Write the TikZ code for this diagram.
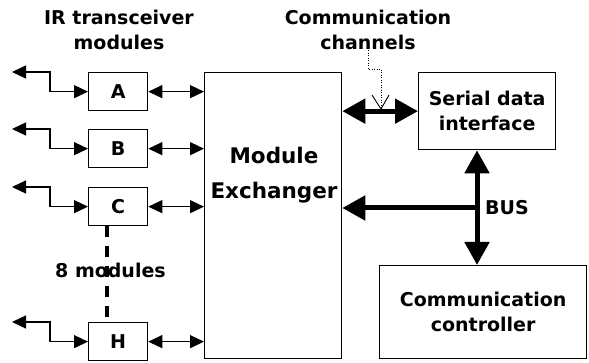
\documentclass[tikz,border=0pt]{standalone}
\usepackage{fontspec}
\setmainfont{DejaVu Sans}
\usetikzlibrary{arrows.meta,calc}
\begin{document}
\begin{tikzpicture}[x=1pt,y=-1pt,
  box/.style={draw, line width=1.3pt, fill=white, inner sep=0pt, anchor=north west},
  lbl/.style={font=\fontsize{19}{25}\selectfont\bfseries, align=center, inner sep=0pt},
  biglbl/.style={font=\fontsize{21.5}{35}\selectfont\bfseries, align=center, inner sep=0pt},
  linkarr/.style={line width=1.3pt, {Triangle[length=14pt,width=13pt]}-{Triangle[length=14pt,width=13pt]}},
  busline/.style={line width=5pt},
  dashline/.style={line width=3.5pt, dash pattern=on 11pt off 9pt},
  pointer/.style={line width=1pt, dash pattern=on 1pt off 1.5pt},
]
\useasboundingbox (0,0) rectangle (589,363);

% titles
\node[lbl] (irlbl) at (119,30) {IR transceiver\\modules};
\node[lbl] (chanlbl) at (368,30) {Communication\\channels};

% main blocks
\node[box, minimum width=137pt, minimum height=286pt] (ME) at (204,72) {};
\node[biglbl] (metext) at (274,175) {Module\\Exchanger};
\node[box, minimum width=137pt, minimum height=77pt, lbl] (SDI) at (418,72) {Serial data\\interface};
\node[box, minimum width=207pt, minimum height=93pt, lbl] (CC) at (379,265) {Communication\\controller};

% transceiver modules
\foreach \m/\y in {A/72,B/129,C/187,H/322}{
  \node[box, minimum width=59pt, minimum height=38pt, lbl] (\m) at (88,\y) {\m};
  \coordinate (\m out) at ([xshift=-76pt]\m.north west);
  \draw[linkarr] (\m out) -- ++(38,0) |- (\m.west);
  \draw[linkarr] (\m.east) -- (\m.east -| ME.west);
}

% module count
\node[lbl, anchor=west] (count) at (55,270) {8 modules};
\coordinate (dx) at (107,0);
\draw[dashline] (C.south -| dx) -- (H.north -| dx);

% communication channel link
\draw[busline, {Triangle[length=23pt,width=24pt]}-{Triangle[length=23pt,width=24pt]}]
  (ME.east |- SDI.west) -- (SDI.west);
\coordinate (ptip) at (381,109);
\draw[pointer] (chanlbl.south) -- ++(0,19) -| (ptip);
\draw[line width=0.9pt] ([shift={(-9,-14)}]ptip) -- (ptip) -- ([shift={(8,-14)}]ptip);

% bus
\coordinate (busx) at (477,208);
\draw[busline, {Triangle[length=23pt,width=24pt]}-{Triangle[length=23pt,width=24pt]}]
  (SDI.south -| busx) -- (CC.north -| busx);
\draw[busline, -{Triangle[length=23pt,width=24pt]}] (busx) -- (busx -| ME.east);
\node[lbl, anchor=west] (buslbl) at (485,208) {BUS};
\end{tikzpicture}
\end{document}
